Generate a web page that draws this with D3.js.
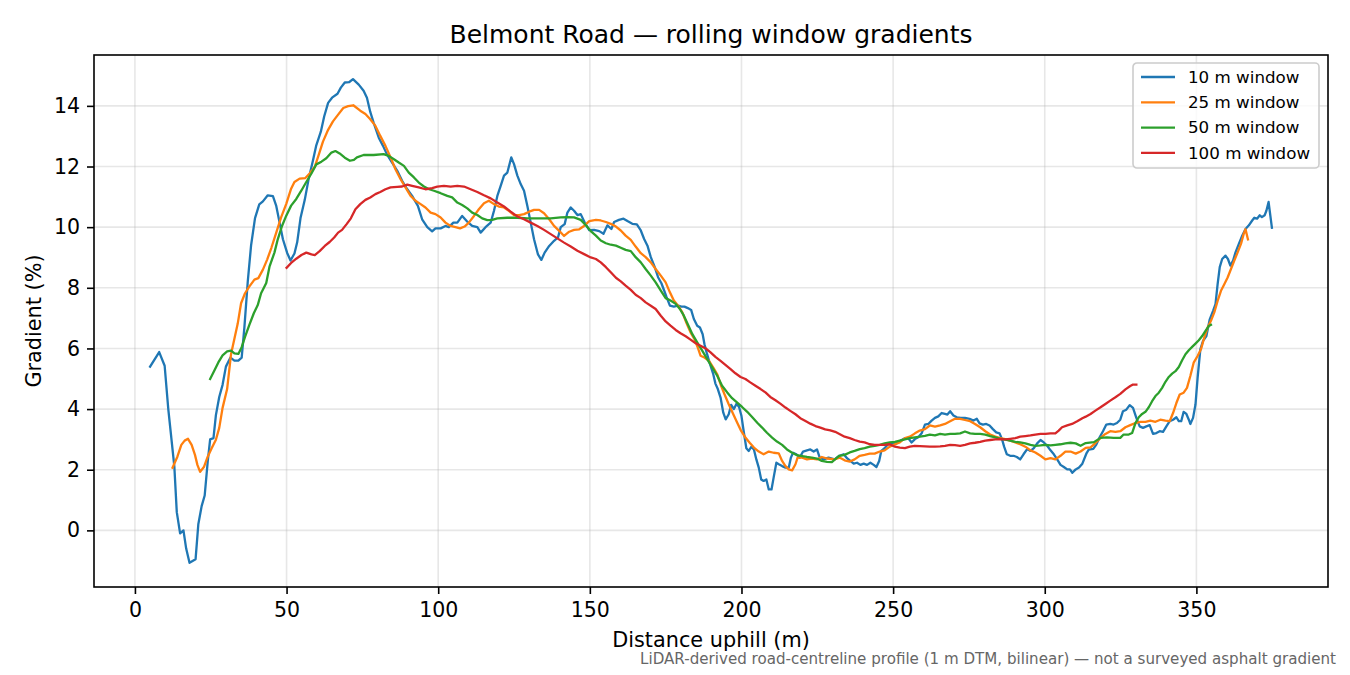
<!DOCTYPE html>
<html>
<head>
<meta charset="utf-8">
<script src="https://d3js.org/d3.v7.min.js"></script>
<style>
  body { margin: 0; background: #fff; }
  svg { font-family: 'DejaVu Sans', sans-serif; }
</style>
</head>
<body>
<svg width="1350" height="675"></svg>
<script>
// Values: [distance uphill (m), gradient (%)]
const win10 = [
  [5,5.4],[8,5.88],[9.8,5.43],[11,4.0],[13,2.1],[13.8,0.6],[14.9,-0.1],[16,0.0],[16.9,-0.6],[18,-1.07],
  [20,-0.95],[20.9,0.2],[22,0.8],[23,1.15],[24,2.27],[24.8,3.0],[25.9,3.04],[26.7,3.8],[27.8,4.4],[28.9,4.8],
  [30,5.4],[31.5,5.7],[32.8,5.6],[34.1,5.6],[35.2,5.7],[36.1,6.7],[37.2,8.2],[38.3,9.4],[39.6,10.3],[41,10.75],
  [42.2,10.85],[43.8,11.05],[45.5,11.02],[46.6,10.7],[47.7,10.15],[48.8,9.6],[50.2,9.15],[51.3,8.9],[52.6,9.13],[53.5,9.5],
  [54.6,10.3],[56,10.9],[57.3,11.6],[58.7,12.2],[59.8,12.7],[61.3,13.15],[62.4,13.65],[63.7,14.1],[65,14.27],[66.8,14.4],
  [67.9,14.6],[69.2,14.77],[70.6,14.78],[71.9,14.88],[73.8,14.7],[75.4,14.5],[76.5,14.27],[77.6,13.8],[78.7,13.45],[80.4,12.95],
  [81.8,12.68],[83.1,12.4],[84.8,12.13],[86.5,11.86],[88.1,11.53],[89.8,11.25],[91.4,11.03],[93.3,10.7],[94.7,10.26],[96.4,10.0],
  [98,9.86],[99.1,9.96],[100.8,9.96],[102.4,10.04],[103.5,10.0],[105,10.15],[106.3,10.15],[107.9,10.37],[109.4,10.2],[111.2,10.04],
  [112.9,10.0],[114,9.82],[115.6,10.0],[117.3,10.15],[118.4,10.54],[119.5,11.03],[120.6,11.36],[121.7,11.7],[122.8,11.8],[124.1,12.3],
  [125,12.08],[126.1,11.7],[127.2,11.42],[128.3,11.2],[129.4,10.7],[130.5,10.15],[131.6,9.6],[132.9,9.1],[134,8.92],[135.1,9.16],
  [136.6,9.38],[138.2,9.55],[139.5,9.66],[140.4,10.0],[141.7,10.1],[142.6,10.48],[143.7,10.65],[144.8,10.54],[145.9,10.4],[147,10.43],
  [148.3,10.15],[149.8,9.9],[151.4,9.91],[153.1,9.87],[154.5,9.78],[155.8,10.06],[157.1,9.94],[158,10.17],[159.6,10.24],[161.1,10.28],
  [162.4,10.2],[164,10.11],[165.5,10.09],[166.8,9.89],[167.9,9.61],[169,9.39],[170.1,9.01],[171.4,8.68],[172.5,8.35],[173.6,8.15],
  [174.5,7.91],[175.3,7.69],[176.4,7.41],[177.7,7.38],[179.1,7.41],[180.2,7.38],[181.2,7.38],[182.3,7.33],[183.4,7.27],[184.3,6.97],
  [185.4,6.75],[186.3,6.69],[187.2,6.47],[187.8,6.14],[188.5,5.87],[189.3,5.59],[190,5.37],[190.7,5.15],[191.4,4.84],[192.2,4.66],
  [193.1,4.38],[194,3.88],[194.8,3.66],[195.8,3.83],[196.6,4.14],[197.5,4.0],[198.4,4.18],[199.2,4.07],[200,3.77],[200.8,3.22],
  [201.6,2.71],[202.4,2.62],[203.2,2.75],[204.1,2.67],[204.9,2.34],[205.7,2.07],[206.5,1.68],[207.3,1.63],[208.2,1.68],[209,1.35],
  [209.9,1.35],[210.6,1.74],[211.5,2.23],[212.3,2.18],[213.4,2.12],[214.5,2.07],[215.6,2.07],[216.3,2.4],[217,2.56],[218.1,2.51],
  [219.2,2.4],[220.3,2.6],[221.6,2.64],[222.7,2.67],[223.8,2.6],[224.9,2.67],[225.8,2.4],[227.1,2.34],[228.7,2.4],[230.7,2.34],
  [232.3,2.46],[233.7,2.51],[234.8,2.38],[235.9,2.29],[237,2.2],[238.1,2.23],[239.2,2.16],[240.3,2.2],[241.4,2.16],[242.5,2.23],
  [243.6,2.16],[244.5,2.09],[245.4,2.29],[246.1,2.62],[247.2,2.71],[248.3,2.84],[249.4,2.87],[250.6,2.84],[251.7,2.9],[252.8,2.98],
  [253.9,3.04],[255,3.04],[256.1,2.9],[257.2,3.01],[258.3,3.07],[259.4,3.2],[260.5,3.49],[261.6,3.51],[262.7,3.62],[263.8,3.71],
  [264.9,3.76],[266,3.87],[267.1,3.84],[267.9,3.82],[268.8,3.93],[269.9,3.79],[271,3.73],[272.3,3.71],[273.7,3.71],[275.2,3.68],
  [276.5,3.62],[277.6,3.68],[278.5,3.53],[279.6,3.49],[280.7,3.51],[281.8,3.46],[282.9,3.34],[284,3.23],[285.1,3.2],[285.9,3.01],
  [286.6,2.76],[287.5,2.51],[288.6,2.46],[289.7,2.46],[290.8,2.42],[291.9,2.34],[293,2.51],[294.2,2.68],[295.3,2.62],[296.4,2.71],
  [297.5,2.87],[298.6,2.98],[299.7,2.9],[300.8,2.79],[301.9,2.64],[303,2.51],[304.1,2.34],[305.2,2.16],[306.3,2.09],[307.4,2.01],
  [308.3,2.01],[309.1,1.9],[310.2,2.01],[311.3,2.07],[312.4,2.2],[313.8,2.55],[314.5,2.66],[316,2.69],[317,2.83],[318.1,3.07],
  [319.2,3.27],[320.3,3.49],[321.6,3.51],[322.7,3.49],[323.8,3.54],[324.9,3.65],[325.8,3.93],[326.9,3.98],[328,4.13],[329.1,4.04],
  [330.2,3.71],[331.3,3.43],[332.4,3.38],[333.5,3.43],[334.6,3.47],[335.7,3.18],[336.8,3.21],[337.9,3.27],[339,3.25],[340.1,3.43],
  [341.2,3.6],[342.3,3.65],[343.4,3.73],[344.2,3.6],[345,3.6],[345.8,3.91],[346.7,3.84],[347.5,3.65],[348,3.51],[348.9,3.71],
  [349.7,4.15],[350.4,5.03],[351.3,5.97],[352.2,6.25],[353.3,6.41],[354.4,6.96],[355.5,7.24],[356.3,7.46],[357,8.12],[357.7,8.68],
  [358.5,8.95],[359.6,9.06],[360.4,8.95],[361.2,8.73],[362.1,8.9],[362.9,9.17],[364,9.45],[365.1,9.72],[366.2,9.94],[367.3,10.06],
  [368.4,10.22],[369.1,10.31],[370,10.28],[370.9,10.39],[371.6,10.33],[372.5,10.39],[373.1,10.55],[373.8,10.83],[374.9,9.98]
];

const win25 = [
  [12.4,2.07],[14,2.43],[15.3,2.82],[16.4,2.96],[17.5,3.02],[18.7,2.82],[19.8,2.49],[20.6,2.16],[21.5,1.93],[22.8,2.1],
  [24,2.43],[25.3,2.71],[26.7,2.99],[27.8,3.38],[28.9,4.04],[30.4,4.66],[31.7,5.82],[32.8,6.32],[33.9,6.82],[35,7.49],
  [36.3,7.82],[37.7,8.04],[39.4,8.27],[40.7,8.32],[42.2,8.6],[43.6,8.93],[45,9.32],[46.6,9.82],[48.2,10.32],[49.9,10.77],
  [51.5,11.27],[52.6,11.49],[54.3,11.6],[56.2,11.62],[57.6,11.77],[59.3,11.99],[60.6,12.38],[62,12.82],[63.7,13.21],[65.3,13.49],
  [67,13.71],[68.7,13.93],[70.3,13.99],[72,14.02],[74.3,13.84],[76,13.73],[77.6,13.56],[79.3,13.34],[80.9,13.01],[82.6,12.68],
  [84.3,12.3],[85.9,11.91],[87.6,11.58],[89.2,11.31],[90.9,11.03],[92.5,10.87],[94.2,10.76],[95.8,10.65],[97.5,10.48],[99.1,10.43],
  [100.8,10.32],[102.4,10.15],[104.1,10.04],[105.7,10.0],[107.2,9.96],[108.7,10.02],[110.1,10.15],[111.8,10.37],[113.4,10.59],[115.1,10.79],
  [116.7,10.87],[118.4,10.76],[120,10.68],[121.7,10.65],[123.3,10.54],[125,10.4],[126.7,10.4],[128.3,10.43],[130,10.51],[131.6,10.57],
  [133.3,10.57],[134.9,10.46],[136.6,10.26],[138.2,10.04],[139.9,9.88],[141.5,9.71],[143.2,9.85],[144.8,9.91],[146.5,9.93],[148.1,10.04],
  [149.8,10.2],[152,10.24],[153.6,10.22],[155.3,10.17],[156.9,10.11],[158.6,10.02],[160.2,9.89],[161.8,9.72],[163.5,9.58],[165.1,9.36],
  [166.8,9.14],[168.4,9.01],[170.1,8.84],[171.7,8.62],[173.4,8.4],[175,8.18],[176.4,7.85],[177.7,7.58],[179.1,7.41],[180.5,7.19],
  [181.9,6.83],[183.2,6.53],[184.5,6.31],[185.6,6.03],[186.5,5.76],[187.8,5.7],[189.3,5.59],[190.7,5.37],[192,5.15],[193.1,4.82],
  [194.4,4.49],[195.8,4.16],[197.3,3.83],[198.6,3.55],[199.9,3.28],[201.3,3.06],[202.7,2.89],[204.1,2.73],[205.7,2.6],[207.3,2.51],
  [209,2.6],[210.6,2.56],[212.3,2.54],[213.4,2.29],[214.5,2.12],[215.6,2.01],[216.7,1.98],[217.8,2.18],[218.5,2.4],[220,2.4],
  [221.6,2.34],[223.2,2.37],[224.9,2.34],[226.5,2.42],[228.2,2.37],[230.7,2.34],[232.3,2.4],[234,2.31],[235.7,2.27],[237.3,2.34],
  [239,2.46],[240.6,2.49],[242.3,2.53],[243.9,2.53],[245.6,2.6],[247.2,2.64],[248.9,2.76],[250.6,2.84],[252.2,2.9],[253.9,3.04],
  [255.5,3.09],[257.2,3.2],[258.8,3.29],[260.5,3.34],[262.1,3.46],[263.8,3.42],[265.5,3.46],[267.1,3.51],[268.8,3.6],[270.4,3.68],
  [272.1,3.68],[273.7,3.64],[275.4,3.6],[277,3.51],[278.7,3.4],[280.4,3.27],[282,3.16],[283.7,3.09],[285.3,3.04],[287,3.01],
  [288.6,2.96],[290.3,2.9],[291.9,2.84],[293.6,2.76],[295.3,2.64],[296.9,2.57],[298.6,2.46],[300.2,2.34],[301.9,2.38],[303.5,2.34],
  [305.2,2.46],[306.8,2.6],[308.5,2.6],[310.2,2.53],[311.8,2.6],[313.5,2.72],[315.1,2.74],[316.7,2.88],[318.4,3.05],[320,3.18],
  [321.6,3.27],[323.3,3.25],[324.9,3.27],[326.6,3.4],[328.2,3.47],[329.9,3.54],[331.5,3.58],[333.2,3.58],[334.8,3.62],[336.5,3.58],
  [338.1,3.65],[339.8,3.62],[341.2,3.6],[342.3,3.87],[343.4,4.2],[344.5,4.48],[345.8,4.54],[346.9,4.7],[348,5.09],[349.1,5.53],
  [350.4,5.75],[351.5,5.97],[352.6,6.36],[353.7,6.69],[354.8,6.91],[355.9,7.19],[357,7.57],[358.1,7.9],[359.2,8.12],[360.3,8.34],
  [361.4,8.62],[362.5,8.9],[363.6,9.17],[364.7,9.45],[365.6,9.78],[366.2,9.93],[367,9.6]
];

const win50 = [
  [24.8,4.99],[26.2,5.27],[27.5,5.54],[28.9,5.77],[30.4,5.9],[31.7,5.93],[32.8,5.84],[34.1,5.82],[35.2,6.04],[36.3,6.38],
  [37.7,6.77],[39.2,7.16],[40.5,7.43],[41.6,7.82],[43.3,8.16],[44.4,8.71],[46,9.16],[47.1,9.6],[48.5,10.04],[49.9,10.38],
  [51.5,10.71],[53.2,10.93],[54.9,11.21],[56.5,11.49],[58.2,11.77],[59.8,12.07],[61.5,12.16],[63.1,12.27],[64.8,12.46],[66.1,12.51],
  [67.5,12.43],[69.2,12.29],[70.9,12.19],[72.2,12.22],[73.2,12.3],[75.4,12.38],[78.7,12.38],[82,12.41],[83.7,12.35],[85.4,12.24],
  [87,12.13],[88.7,12.02],[90.3,11.8],[92,11.64],[93.6,11.47],[95.3,11.34],[97,11.25],[98.6,11.2],[100.8,11.12],[103,11.03],
  [104.6,10.98],[106.3,10.81],[107.9,10.73],[109.6,10.62],[111.2,10.48],[112.9,10.4],[114.5,10.29],[116.2,10.23],[117.8,10.24],[119.5,10.29],
  [122.8,10.31],[126.1,10.31],[129.4,10.29],[133.8,10.29],[137.1,10.29],[140.4,10.32],[142.6,10.33],[144.8,10.32],[147,10.24],[148.7,10.06],
  [150.3,9.87],[152,9.72],[153.6,9.56],[155.3,9.47],[156.9,9.42],[158.6,9.39],[160.2,9.32],[161.8,9.25],[163.5,9.21],[165.1,9.01],
  [166.8,8.84],[168.4,8.62],[170.1,8.4],[171.7,8.18],[173.4,7.91],[175,7.66],[176.6,7.58],[178.3,7.47],[179.7,7.3],[181,7.08],
  [182.3,6.8],[183.8,6.47],[185.4,6.2],[187.1,5.92],[188.7,5.65],[190.4,5.37],[192,5.1],[193.6,4.77],[195.3,4.55],[196.9,4.36],
  [198.6,4.21],[200.2,4.07],[201.9,3.91],[203.5,3.74],[205.2,3.55],[206.8,3.39],[208.4,3.22],[210.1,3.06],[211.7,2.93],[213.4,2.82],
  [215,2.67],[216.7,2.56],[218.3,2.48],[220,2.45],[221.6,2.42],[223.2,2.4],[224.9,2.37],[226.5,2.29],[228.2,2.26],[229.8,2.25],
  [231.5,2.4],[232.3,2.46],[234,2.49],[235.7,2.57],[237.3,2.62],[239,2.68],[240.6,2.71],[242.3,2.76],[243.9,2.79],[245.6,2.82],
  [247.2,2.87],[248.9,2.9],[250.6,2.92],[252.2,2.96],[253.9,3.0],[255.5,3.04],[257.2,3.07],[258.8,3.09],[260.5,3.12],[262.1,3.16],
  [263.8,3.13],[265.5,3.18],[267.1,3.16],[268.8,3.18],[270.4,3.18],[272.1,3.2],[273.7,3.26],[275.4,3.2],[277,3.18],[278.7,3.18],
  [280.4,3.16],[282,3.11],[283.7,3.07],[285.3,3.02],[287,2.99],[288.6,2.96],[290.3,2.92],[291.9,2.9],[293.6,2.87],[295.3,2.82],
  [296.9,2.79],[298.6,2.8],[300.2,2.82],[301.9,2.8],[303.5,2.82],[305.2,2.84],[306.8,2.87],[308.5,2.89],[310.2,2.87],[311.8,2.79],
  [313.5,2.88],[316.2,2.91],[318.4,3.05],[320.5,3.07],[322.7,3.05],[324.9,3.05],[326,3.16],[327.7,3.16],[328.8,3.21],[329.9,3.54],
  [331,3.73],[332.1,3.84],[333.2,3.91],[334.3,4.06],[335.4,4.26],[336.5,4.43],[337.6,4.54],[338.7,4.7],[339.8,4.9],[340.9,5.06],
  [342,5.17],[343.1,5.25],[344.2,5.39],[345.3,5.61],[346.4,5.81],[347.5,5.94],[348.6,6.05],[349.7,6.16],[350.8,6.27],[351.9,6.41],
  [353,6.58],[354.1,6.74],[354.8,6.78]
];

const win100 = [
  [50,8.66],[51.5,8.82],[53.2,8.96],[54.9,9.08],[56.5,9.16],[58.2,9.1],[59.3,9.08],[60.9,9.21],[62.6,9.38],[64.2,9.51],
  [65.7,9.66],[67,9.82],[68.3,9.91],[69.8,10.1],[71.2,10.29],[72.7,10.59],[74.3,10.76],[76,10.9],[77.6,10.98],[79.3,11.09],
  [80.9,11.16],[82.6,11.25],[84.3,11.31],[86.5,11.33],[88.1,11.34],[89.8,11.4],[91.4,11.36],[93.6,11.31],[95.8,11.25],[98,11.29],
  [99.7,11.34],[101.9,11.36],[104.1,11.34],[106.3,11.36],[108.5,11.34],[110.7,11.25],[112.9,11.16],[115.1,11.05],[117.3,10.95],[119.5,10.81],
  [121.7,10.68],[123.9,10.51],[126.1,10.35],[128.3,10.26],[130.5,10.15],[132.7,10.04],[134.9,9.91],[137.1,9.77],[139.3,9.63],[141.5,9.49],
  [143.7,9.36],[145.9,9.22],[148.1,9.11],[150.3,9.0],[152,8.95],[153.6,8.84],[155.3,8.68],[156.9,8.51],[158.6,8.33],[160.2,8.21],
  [161.8,8.07],[163.5,7.93],[165.1,7.77],[166.8,7.66],[168.4,7.52],[170.1,7.41],[171.7,7.3],[173.4,7.08],[175,6.89],[176.6,6.75],
  [178.3,6.61],[179.9,6.5],[181.6,6.4],[183.2,6.29],[184.9,6.17],[186.5,6.09],[188.2,6.0],[189.8,5.87],[191.4,5.72],[193.1,5.59],
  [194.7,5.46],[196.4,5.32],[198,5.18],[199.7,5.06],[201.3,4.99],[202.9,4.88],[204.6,4.77],[206.3,4.66],[207.9,4.55],[209.5,4.4],
  [211.2,4.29],[212.8,4.18],[214.5,4.05],[216.1,3.94],[217.8,3.83],[219.4,3.7],[221.1,3.61],[222.7,3.52],[224.4,3.44],[226,3.39],
  [227.6,3.33],[229.3,3.3],[230.9,3.25],[232.3,3.18],[234,3.09],[235.7,3.04],[237.3,2.98],[239,2.93],[240.6,2.9],[242.3,2.84],
  [243.9,2.82],[245.6,2.82],[247.2,2.82],[248.9,2.84],[250.6,2.76],[252.2,2.73],[253.9,2.71],[255.5,2.76],[257.2,2.79],[258.8,2.78],
  [260.5,2.77],[262.1,2.76],[263.8,2.76],[265.5,2.77],[267.1,2.79],[268.8,2.82],[270.4,2.81],[272.1,2.79],[273.7,2.82],[275.4,2.87],
  [277,2.89],[278.7,2.92],[280.4,2.96],[282,2.98],[283.7,3.0],[285.3,3.01],[287,3.0],[288.6,3.02],[290.3,3.04],[291.9,3.09],
  [293.6,3.11],[295.3,3.13],[296.9,3.16],[298.6,3.18],[300.2,3.18],[301.9,3.2],[303.5,3.2],[304.6,3.29],[305.7,3.4],[307.4,3.46],
  [309,3.51],[310.7,3.6],[312.4,3.7],[313.5,3.75],[315.1,3.84],[316.7,3.95],[318.4,4.06],[320,4.17],[321.6,4.28],[323.3,4.39],
  [324.9,4.5],[326.6,4.65],[328.2,4.76],[329.1,4.81],[330.2,4.81]
];

const seriesLabels = ['10 m window', '25 m window', '50 m window', '100 m window'];
const xTicks = [0, 50, 100, 150, 200, 250, 300, 350];
const yTicks = [0, 2, 4, 6, 8, 10, 12, 14];

const titleText = 'Belmont Road \u2014 rolling window gradients';
const xLabel = 'Distance uphill (m)';
const yLabel = 'Gradient (%)';
const footnote = 'LiDAR-derived road-centreline profile (1 m DTM, bilinear) \u2014 not a surveyed asphalt gradient';

const colors = ['#1f77b4', '#ff7f0e', '#2ca02c', '#d62728'];

const render = () => {
  const svg = d3.select('svg');
  const width = +svg.attr('width');
  const height = +svg.attr('height');

  const margin = { top: 55, right: 22, bottom: 88, left: 94 };
  const innerWidth = width - margin.left - margin.right;
  const innerHeight = height - margin.top - margin.bottom;

  const allSeries = [win10, win25, win50, win100];
  const allPts = allSeries.flat();

  // matplotlib-style 5% padding around the data
  const [xMin, xMax] = d3.extent(allPts, (d) => d[0]);
  const [yMin, yMax] = d3.extent(allPts, (d) => d[1]);
  const xPad = (xMax - xMin) * 0.05;
  const yPad = (yMax - yMin) * 0.05;

  const xScale = d3.scaleLinear().domain([xMin - xPad, xMax + xPad]).range([0, innerWidth]);
  const yScale = d3.scaleLinear().domain([yMin - yPad, yMax + yPad]).range([innerHeight, 0]);

  const g = svg.append('g').attr('transform', `translate(${margin.left},${margin.top})`);

  // grid
  g.append('g')
    .selectAll('line')
    .data(xTicks)
    .enter()
    .append('line')
    .attr('x1', (d) => xScale(d))
    .attr('x2', (d) => xScale(d))
    .attr('y1', 0)
    .attr('y2', innerHeight)
    .attr('stroke', '#b0b0b0')
    .attr('stroke-opacity', 0.3)
    .attr('stroke-width', 1.6);

  g.append('g')
    .selectAll('line')
    .data(yTicks)
    .enter()
    .append('line')
    .attr('x1', 0)
    .attr('x2', innerWidth)
    .attr('y1', (d) => yScale(d))
    .attr('y2', (d) => yScale(d))
    .attr('stroke', '#b0b0b0')
    .attr('stroke-opacity', 0.3)
    .attr('stroke-width', 1.6);

  // lines
  svg.append('defs')
    .append('clipPath')
    .attr('id', 'plot-clip')
    .append('rect')
    .attr('width', innerWidth)
    .attr('height', innerHeight);

  const line = d3.line()
    .x((d) => xScale(d[0]))
    .y((d) => yScale(d[1]));

  g.append('g')
    .attr('clip-path', 'url(#plot-clip)')
    .selectAll('path')
    .data(allSeries)
    .enter()
    .append('path')
    .attr('d', line)
    .attr('fill', 'none')
    .attr('stroke', (d, i) => colors[i])
    .attr('stroke-width', 2.3)
    .attr('stroke-linejoin', 'round')
    .attr('stroke-linecap', 'square');

  // axes
  const xAxis = g.append('g')
    .attr('transform', `translate(0,${innerHeight})`)
    .call(d3.axisBottom(xScale).tickValues(xTicks).tickSize(7).tickPadding(7).tickFormat(d3.format('d')));
  const yAxis = g.append('g')
    .call(d3.axisLeft(yScale).tickValues(yTicks).tickSize(7).tickPadding(7).tickFormat(d3.format('d')));

  [xAxis, yAxis].forEach((ax) => {
    ax.select('.domain').remove();
    ax.selectAll('.tick line').attr('stroke', '#000').attr('stroke-width', 1.6);
    ax.selectAll('.tick text')
      .attr('fill', '#000')
      .style('font-family', "'DejaVu Sans', sans-serif")
      .style('font-size', '20.5px');
  });
  xAxis.selectAll('.tick text').attr('dy', '0.78em');

  // frame
  g.append('rect')
    .attr('width', innerWidth)
    .attr('height', innerHeight)
    .attr('fill', 'none')
    .attr('stroke', '#000')
    .attr('stroke-width', 1.6);

  // title and axis labels
  svg.append('text')
    .attr('x', margin.left + innerWidth / 2)
    .attr('y', margin.top - 12.5)
    .attr('text-anchor', 'middle')
    .style('font-size', '25px')
    .text(titleText);

  svg.append('text')
    .attr('x', margin.left + innerWidth / 2)
    .attr('y', 647)
    .attr('text-anchor', 'middle')
    .style('font-size', '20.8px')
    .text(xLabel);

  svg.append('text')
    .attr('transform', `translate(41,${margin.top + innerHeight / 2}) rotate(-90)`)
    .attr('text-anchor', 'middle')
    .style('font-size', '20.8px')
    .text(yLabel);

  svg.append('text')
    .attr('x', 1336)
    .attr('y', 664)
    .attr('text-anchor', 'end')
    .attr('fill', '#666')
    .style('font-size', '15.1px')
    .text(footnote);

  // legend
  const lg = svg.append('g').attr('transform', 'translate(1133,63)');
  lg.append('rect')
    .attr('width', 186)
    .attr('height', 105)
    .attr('rx', 4)
    .attr('fill', '#fff')
    .attr('fill-opacity', 0.8)
    .attr('stroke', '#cccccc')
    .attr('stroke-width', 1.6);

  const rows = lg.selectAll('g.row')
    .data(seriesLabels)
    .enter()
    .append('g')
    .attr('class', 'row')
    .attr('transform', (d, i) => `translate(0,${14 + i * 25.3})`);

  rows.append('line')
    .attr('x1', 8)
    .attr('x2', 42)
    .attr('stroke', (d, i) => colors[i])
    .attr('stroke-width', 2.3);

  rows.append('text')
    .attr('x', 55)
    .attr('dy', '0.35em')
    .style('font-size', '16.7px')
    .text((d) => d);
};

window.onload = () => {
  render();
};
</script>
</body>
</html>
